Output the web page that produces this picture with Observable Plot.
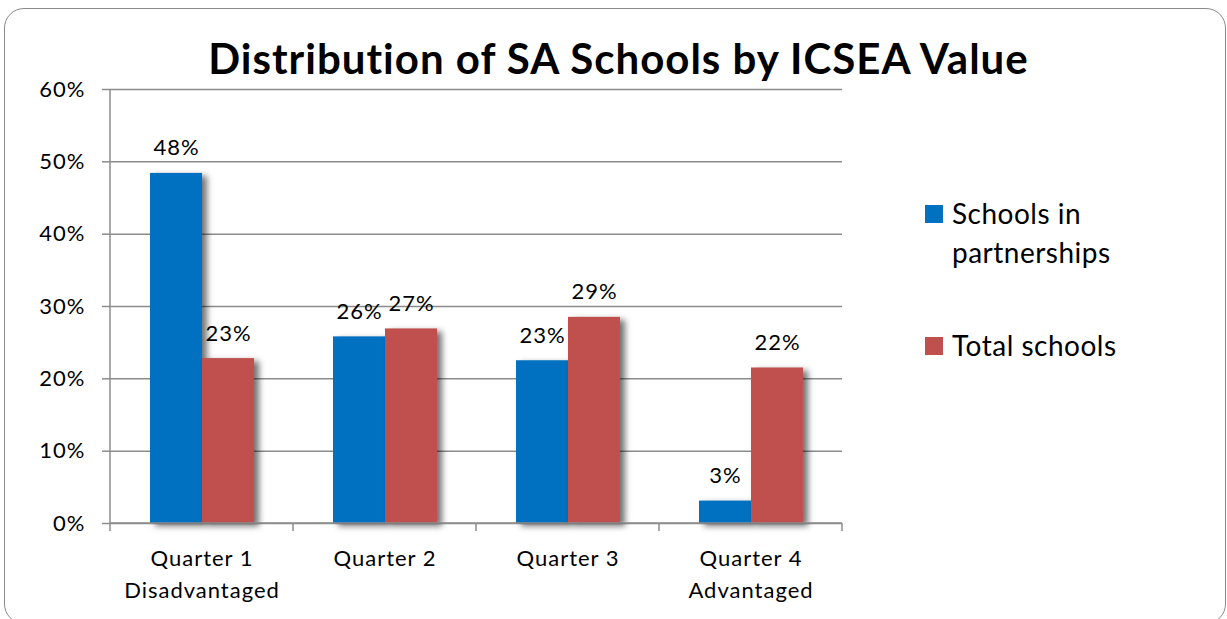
<!DOCTYPE html>
<html><head><meta charset="utf-8">
<script src="https://cdn.jsdelivr.net/npm/d3@7"></script>
<script src="https://cdn.jsdelivr.net/npm/@observablehq/plot@0.6"></script>
<style>
body{margin:0;background:#fff;font-family:Lato,"Open Sans",sans-serif;color:#000;}
#wrap{position:relative;width:1227px;height:619px;overflow:hidden;}
#border{position:absolute;left:4px;top:8px;width:1220px;height:614px;border:1.5px solid #8a8a8a;border-radius:20px;}
#title{position:absolute;left:0;top:37px;width:1237px;text-align:center;font-weight:bold;font-size:42px;line-height:42px;letter-spacing:1px;white-space:nowrap;}
.leg{position:absolute;left:925px;width:280px;}
.leg .sw{position:absolute;left:0;width:18px;height:18px;}
.leg .lb{position:absolute;left:27px;width:185px;font-size:28px;line-height:39px;letter-spacing:0.5px;}
#chart{position:absolute;left:0;top:0;}
</style></head><body>
<div id="wrap">
  <div id="border"></div>
  <div id="chart"></div>
  <div id="title">Distribution of SA Schools by ICSEA Value</div>
  <div id="legend"></div>
</div>
<script>
const categories = ["Quarter 1", "Quarter 2", "Quarter 3", "Quarter 4"];
const subLabels = ["Disadvantaged", "", "", "Advantaged"];
const series = ["Schools in partnerships", "Total schools"];
const partnerships = [48.4, 25.8, 22.5, 3.1];
const totals = [22.8, 26.9, 28.5, 21.5];
const yTicks = [0, 10, 20, 30, 40, 50, 60];
const colors = ["#0070C0", "#C0504D"];

const rows = [];
categories.forEach((c, i) => {
  rows.push({category: c, series: series[0], value: partnerships[i]});
  rows.push({category: c, series: series[1], value: totals[i]});
});
const labelOf = new Map(categories.map((c, i) => [c, subLabels[i] ? c + "\n" + subLabels[i] : c]));

const gridColor = "#8c8c8c";
const plot = Plot.plot({
  width: 1227, height: 619,
  marginLeft: 108, marginRight: 384, marginTop: 89, marginBottom: 96,
  style: {fontFamily: "Lato, 'Open Sans', sans-serif", fontSize: "22px", letterSpacing: "1px", color: "#000", background: "transparent"},
  fx: {domain: categories, paddingInner: 0, paddingOuter: 0, label: null},
  x: {domain: series, paddingInner: 0, paddingOuter: 0.75, axis: null},
  y: {domain: [0, 60], axis: null},
  color: {domain: series, range: colors},
  marks: [
    Plot.ruleY(yTicks, {stroke: gridColor, strokeWidth: 1.5}),
    Plot.barY(rows, {fx: "category", x: "series", y: "value", fill: "series"}),
    Plot.text(rows, {fx: "category", x: "series", y: "value", text: d => Math.round(d.value) + "%", lineAnchor: "bottom", dy: -18, fontSize: 22, fill: "#000"}),
    Plot.axisY({ticks: yTicks, tickFormat: d => d + "%", tickSize: 8, tickPadding: 17, stroke: gridColor, strokeWidth: 1.5, fontSize: 22, fill: "#000", label: null}),
    Plot.axisFx({anchor: "bottom", tickSize: 0, tickPadding: 20, tickFormat: d => labelOf.get(d), lineHeight: 1.45, fontSize: 22, fill: "#000", label: null})
  ]
});
document.getElementById("chart").appendChild(plot);

// axis line, category boundary ticks and bar shadows
const svg = d3.select(plot);
const fx = plot.scale("fx");
const y = plot.scale("y");
const y0 = y.apply(0), yTop = y.apply(60);
const xL = fx.apply(categories[0]);
const bounds = categories.map(c => fx.apply(c)).concat([fx.apply(categories[categories.length - 1]) + fx.bandwidth]);
const g = svg.append("g").attr("stroke", gridColor).attr("stroke-width", 1.5);
g.append("line").attr("x1", xL).attr("x2", xL).attr("y1", yTop).attr("y2", y0);
g.append("line").attr("x1", xL).attr("x2", bounds[bounds.length - 1]).attr("y1", y0).attr("y2", y0);
bounds.forEach(b => g.append("line").attr("x1", b).attr("x2", b).attr("y1", y0).attr("y2", y0 + 8));
svg.selectAll("g[aria-label='bar'] rect").style("filter", "drop-shadow(5px 3px 3px rgba(0,0,0,0.55))");

// legend
const legend = d3.select("#legend");
const legTops = [194, 326];
series.forEach((s, i) => {
  const item = legend.append("div").attr("class", "leg").style("top", legTops[i] + "px");
  item.append("div").attr("class", "sw").style("top", "11px").style("background", colors[i]);
  item.append("div").attr("class", "lb").text(s);
});
</script>
</body></html>
